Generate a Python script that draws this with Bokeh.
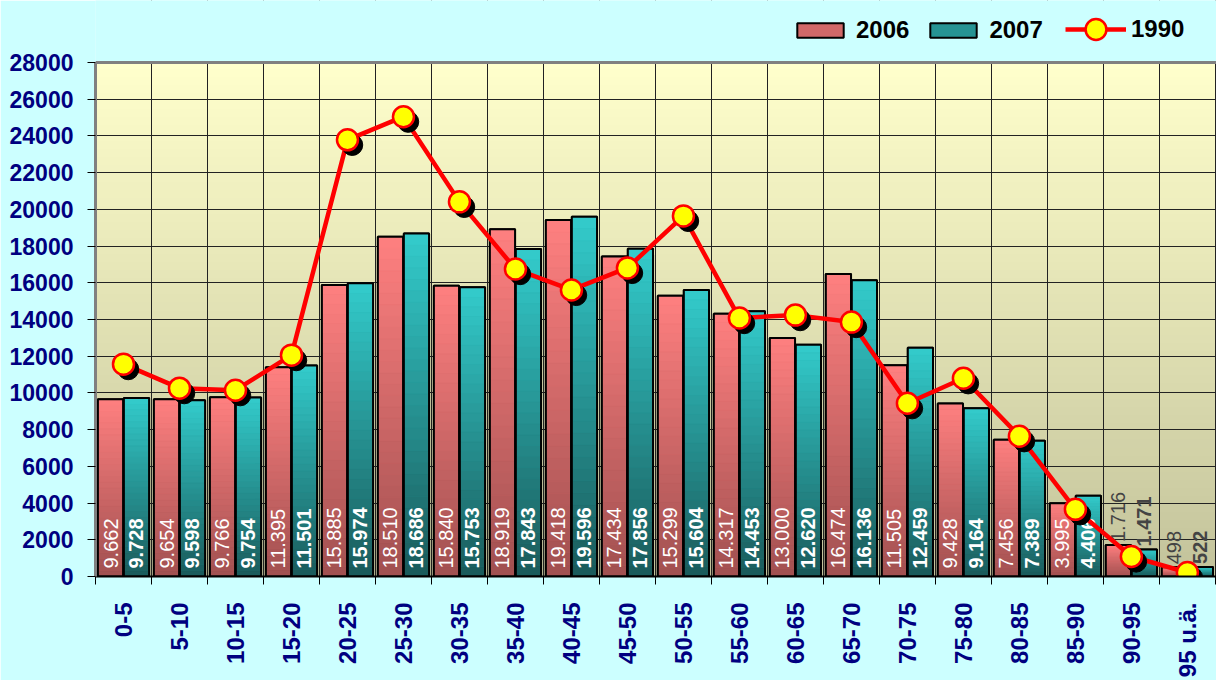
import math
import numpy as np
from bokeh.plotting import figure
from bokeh.models import (ColumnDataSource, FixedTicker, Legend, LegendItem, Range1d, Span,
                          BoxAnnotation)
from bokeh.core.properties import value
from bokeh.embed import file_html
from bokeh.resources import INLINE

categories = ["0-5", "5-10", "10-15", "15-20", "20-25", "25-30", "30-35", "35-40",
              "40-45", "45-50", "50-55", "55-60", "60-65", "65-70", "70-75", "75-80",
              "80-85", "85-90", "90-95", "95 u.ä."]
v2006 = [9662, 9654, 9766, 11395, 15885, 18510, 15840, 18919, 19418, 17434,
         15299, 14317, 13000, 16474, 11505, 9428, 7456, 3995, 1716, 498]
v2007 = [9728, 9598, 9754, 11501, 15974, 18686, 15753, 17843, 19596, 17856,
         15604, 14453, 12620, 16136, 12459, 9164, 7389, 4406, 1471, 522]
v1990 = [11570, 10260, 10150, 12060, 23790, 25050, 20410, 16750, 15610, 16810,
         19645, 14080, 14240, 13860, 9440, 10800, 7640, 3660, 1090, 220]
y_ticks = list(range(0, 28001, 2000))

FONT = "Liberation Sans"
NAVY = "#000080"
CYAN = "#CCFFFF"
N = len(categories)
xs = list(range(N))
YMAX = 28000
YTOP = 31380  # room above the value area for the legend

p = figure(width=1216, height=680, output_backend="svg", toolbar_location=None,
           x_range=Range1d(-0.5, N - 0.48), y_range=Range1d(0, YTOP),
           min_border_left=95, min_border_right=0, min_border_top=0, min_border_bottom=104)
p.border_fill_color = CYAN
p.background_fill_color = CYAN
p.outline_line_color = None

# plot-area gradient background
n = 64
img = np.empty((n, 1), dtype=np.uint32)
view = img.view(dtype=np.uint8).reshape((n, 1, 4))
top_c = np.array([255, 255, 204])
bot_c = np.array([196, 196, 156])
for i in range(n):
    t = i / (n - 1)
    c = bot_c + (top_c - bot_c) * t
    view[i, 0, :3] = c.astype(np.uint8)
    view[i, 0, 3] = 255
p.image_rgba(image=[img], x=-0.5, y=0, dw=N + 0.5, dh=YMAX, level="image")

# grid
p.xgrid.ticker = FixedTicker(ticks=[i - 0.5 for i in range(N + 1)])
p.ygrid.ticker = FixedTicker(ticks=y_ticks)
for g in (p.xgrid, p.ygrid):
    g.grid_line_color = "#222222"
    g.grid_line_width = 1
# hide grid above the value area
p.add_layout(BoxAnnotation(bottom=YMAX, fill_color=CYAN, fill_alpha=1, line_color=None,
                           level="underlay"))

# bars with gradient
bw = 0.45
off = 0.232


def hexc(c):
    return "#%02x%02x%02x" % tuple(int(round(v)) for v in c)


def gradient_bars(vals, dx, top_col, bot_col):
    base = p.vbar(x=[x + dx for x in xs], top=vals, width=bw, bottom=0,
                  fill_color=hexc((np.array(top_col) + np.array(bot_col)) / 2),
                  line_color="black", line_width=2)
    k = 30
    sx, sb, st, sc = [], [], [], []
    for x, v in zip(xs, vals):
        for j in range(k):
            sx.append(x + dx)
            sb.append(v * j / k)
            st.append(v * (j + 1) / k)
            t = (j + 0.5) / k
            sc.append(hexc(np.array(bot_col) + (np.array(top_col) - np.array(bot_col)) * t))
    p.vbar(x=sx, bottom=sb, top=st, width=bw, fill_color=sc, line_color=sc, line_width=0.5)
    p.vbar(x=[x + dx for x in xs], top=vals, width=bw, bottom=0,
           fill_color=None, line_color="black", line_width=2)
    return base


r06 = gradient_bars(v2006, -off, (255, 128, 128), (160, 80, 80))
r07 = gradient_bars(v2007, off, (51, 204, 204), (26, 90, 90))


def fmt(v):
    return f"{v:,}".replace(",", ".")


def label_src(vals, dx):
    ys, yo, cols = [], [], []
    for v in vals:
        if v < 3000:
            ys.append(v)
            yo.append(-3)
            cols.append("#444444")
        else:
            ys.append(0)
            yo.append(-8)
            cols.append("white")
    return ColumnDataSource(dict(x=[x + dx for x in xs], y=ys, yo=yo, c=cols,
                                 t=[fmt(v) for v in vals]))


s06 = label_src(v2006, -off)
s07 = label_src(v2007, off)
p.text(x="x", y="y", text="t", source=s06, angle=math.pi / 2, y_offset="yo",
       text_color="c", text_font=value(FONT), text_font_size="20px",
       text_align="left", text_baseline="middle")
p.text(x="x", y="y", text="t", source=s07, angle=math.pi / 2, y_offset="yo",
       text_color="c", text_font=value(FONT), text_font_size="20px", text_font_style="bold",
       text_align="left", text_baseline="middle")

# 1990 line
shadow_x = [x + 0.085 for x in xs]
shadow_y = [v - 280 for v in v1990]
l90 = p.line(xs, v1990, line_color="#FF0000", line_width=4.5)
p.scatter(shadow_x, shadow_y, size=21, fill_color="black", line_color="black")
m90 = p.scatter(xs, v1990, size=21, fill_color="#FFFF00", line_color="#FF0000", line_width=2.5)

# top border of value area
p.add_layout(Span(location=YMAX, dimension="width", line_color="#808080", line_width=3))

# axes
xa = p.xaxis[0]
xa.ticker = FixedTicker(ticks=xs, minor_ticks=[i - 0.5 for i in range(N + 1)])
xa.major_label_overrides = {i: c for i, c in enumerate(categories)}
xa.major_label_orientation = math.pi / 2
xa.major_tick_out = 0
xa.major_tick_in = 0
xa.minor_tick_out = 8
xa.minor_tick_in = 0
xa.minor_tick_line_color = "black"
xa.axis_line_color = "black"
xa.axis_line_width = 2
xa.major_label_standoff = 18
xa.major_label_text_font = FONT
xa.major_label_text_font_style = "bold"
xa.major_label_text_font_size = "24px"
xa.major_label_text_color = NAVY

ya = p.yaxis[0]
ya.ticker = FixedTicker(ticks=y_ticks)
ya.bounds = (0, YMAX)
ya.axis_line_color = "#808080"
ya.axis_line_width = 3
ya.major_tick_out = 8
ya.major_tick_in = 0
ya.major_tick_line_color = "black"
ya.minor_tick_line_color = None
ya.major_label_standoff = 14
ya.major_label_text_font = FONT
ya.major_label_text_font_style = "bold"
ya.major_label_text_font_size = "23px"
ya.major_label_text_color = NAVY

leg_style = dict(orientation="horizontal", background_fill_alpha=0, border_line_color=None,
                 label_text_font=FONT, label_text_font_style="bold",
                 label_text_font_size="24px", label_text_color="black",
                 padding=2, margin=0)
legend_bars = Legend(items=[LegendItem(label="2006", renderers=[r06]),
                            LegendItem(label="2007", renderers=[r07])],
                     location=(696, 532), glyph_width=58, glyph_height=18,
                     label_standoff=7, spacing=15, **leg_style)
legend_line = Legend(items=[LegendItem(label="1990", renderers=[l90, m90])],
                     location=(970, 521), glyph_width=61, glyph_height=52,
                     label_standoff=5, spacing=0, **leg_style)
p.add_layout(legend_bars, "center")
p.add_layout(legend_line, "center")

open("out.html", "w").write(file_html(p, INLINE))
